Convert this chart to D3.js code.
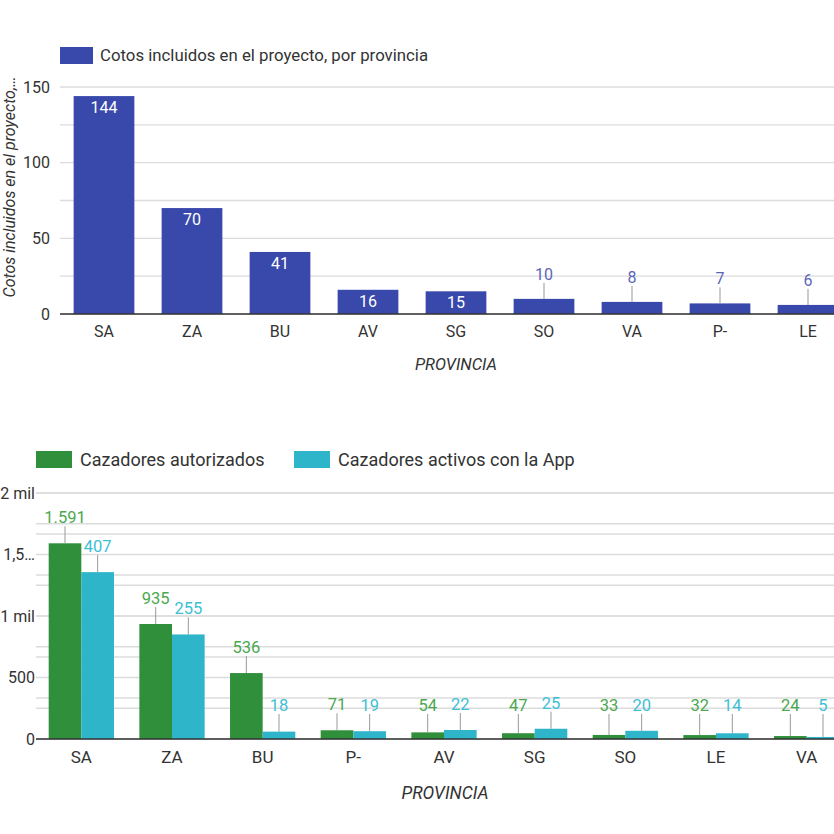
<!DOCTYPE html>
<html><head><meta charset="utf-8">
<script src="https://cdn.jsdelivr.net/npm/d3@7"></script>
<style>
html,body{margin:0;padding:0;background:#fff;}
svg{display:block;font-family:Roboto,"Noto Sans",sans-serif;}
</style></head>
<body>
<svg id="chart" width="834" height="834"></svg>
<script>
// ---- Chart 1 data ----
const provinces1 = ["SA","ZA","BU","AV","SG","SO","VA","P-","LE"];
const cotos = [144,70,41,16,15,10,8,7,6];
const yTicks1 = [0,50,100,150];
// ---- Chart 2 data ----
const provinces2 = ["SA","ZA","BU","P-","AV","SG","SO","LE","VA"];
const autorizados = [1591,935,536,71,54,47,33,32,24];
const activos = [407,255,18,19,22,25,20,14,5];
const autorizadosLabels = ["1.591","935","536","71","54","47","33","32","24"];
const yTicks2 = [0,500,1000,1500,2000];
const yTickLabels2 = ["0","500","1 mil","1,5…","2 mil"];

const svg = d3.select("#chart");
const BLUE="#3949ab", GREEN="#2f8f3a", CYAN="#2fb5c9";
const GREEN_T="#4aa84f", CYAN_T="#3cc0d4", BLUE_T="#5c66b8";
const TXT="#333";

// ================= Chart 1 =================
{
  const left=60, right=852, top=87, bottom=314;
  const x = d3.scaleBand().domain(provinces1).range([left,right]).paddingInner(0.31).paddingOuter(0.155);
  const y = d3.scaleLinear().domain([0,150]).range([bottom,top]);
  const g = svg.append("g");
  g.selectAll("line.grid").data(d3.range(0,151,25)).join("line")
    .attr("x1",left).attr("x2",834).attr("y1",d=>y(d)).attr("y2",d=>y(d))
    .attr("stroke","#dcdcdc").attr("stroke-width",1.3);
  const ya = d3.axisLeft(y).tickValues(yTicks1).tickSize(0).tickPadding(10);
  g.append("g").attr("transform",`translate(${left},0)`).call(ya)
    .call(s=>s.select(".domain").remove())
    .call(s=>s.selectAll("text").attr("font-size",16).attr("fill",TXT).attr("font-family","Roboto"));
  g.selectAll("rect.bar").data(cotos).join("rect")
    .attr("x",(d,i)=>x(provinces1[i])).attr("width",x.bandwidth())
    .attr("y",d=>y(d)).attr("height",d=>bottom-y(d)).attr("fill",BLUE);
  cotos.forEach((d,i)=>{
    const cx = x(provinces1[i])+x.bandwidth()/2;
    const inside = (bottom-y(d))>20;
    if(inside){
      g.append("text").attr("x",cx).attr("y",y(d)+17).attr("text-anchor","middle")
        .attr("font-size",16).attr("fill","#fff").text(d);
    } else {
      g.append("line").attr("x1",cx).attr("x2",cx).attr("y1",y(d)).attr("y2",y(d)-16)
        .attr("stroke","#999").attr("stroke-width",1);
      g.append("text").attr("x",cx).attr("y",y(d)-19).attr("text-anchor","middle")
        .attr("font-size",16).attr("fill",BLUE_T).text(d);
    }
  });
  g.append("line").attr("x1",left).attr("x2",834).attr("y1",bottom).attr("y2",bottom)
    .attr("stroke",TXT).attr("stroke-width",1.5);
  const xa = d3.axisBottom(x).tickSize(0).tickPadding(12);
  g.append("g").attr("transform",`translate(0,${bottom})`).call(xa)
    .call(s=>s.select(".domain").remove())
    .call(s=>s.selectAll("text").attr("font-size",16).attr("fill",TXT).attr("font-family","Roboto"));
  g.append("text").attr("x",456).attr("y",370).attr("text-anchor","middle")
    .attr("font-size",16.5).attr("font-style","italic").attr("fill",TXT).text("PROVINCIA");
  g.append("text").attr("transform","translate(15,187) rotate(-90)").attr("text-anchor","middle")
    .attr("font-size",16).attr("font-style","italic").attr("fill",TXT).text("Cotos incluidos en el proyecto,…");
  g.append("rect").attr("x",60).attr("y",47).attr("width",33).attr("height",17).attr("fill",BLUE);
  g.append("text").attr("x",100).attr("y",61).attr("font-size",16.8).attr("fill",TXT)
    .text("Cotos incluidos en el proyecto, por provincia");
}

// ================= Chart 2 =================
{
  const left=36, right=852, top=493, bottom=739;
  const x0 = d3.scaleBand().domain(provinces2).range([left,right]).paddingInner(0.28).paddingOuter(0.14);
  const series = ["autorizados","activos"];
  const x1 = d3.scaleBand().domain(series).range([0,x0.bandwidth()]);
  const y = d3.scaleLinear().domain([0,2000]).range([bottom,top]);
  const y2 = d3.scaleLinear().domain([0,600]).range([bottom,top]);
  const g = svg.append("g");
  const gridVals = d3.range(0,2001,250).map(v=>y(v)).concat(d3.range(0,601,100).map(v=>y2(v)));
  g.selectAll("line.grid").data(gridVals).join("line")
    .attr("x1",left).attr("x2",834).attr("y1",d=>d).attr("y2",d=>d)
    .attr("stroke","#dcdcdc").attr("stroke-width",1.3);
  const ya = d3.axisLeft(y).tickValues(yTicks2).tickFormat((d,i)=>yTickLabels2[i]).tickSize(0).tickPadding(1);
  g.append("g").attr("transform",`translate(${left},0)`).call(ya)
    .call(s=>s.select(".domain").remove())
    .call(s=>s.selectAll("text").attr("font-size",16).attr("fill",TXT).attr("font-family","Roboto"));
  g.selectAll("rect.g").data(autorizados).join("rect")
    .attr("x",(d,i)=>x0(provinces2[i])+x1("autorizados")).attr("width",x1.bandwidth())
    .attr("y",d=>y(d)).attr("height",d=>bottom-y(d)).attr("fill",GREEN);
  g.selectAll("rect.c").data(activos).join("rect")
    .attr("x",(d,i)=>x0(provinces2[i])+x1("activos")).attr("width",x1.bandwidth())
    .attr("y",d=>y2(d)).attr("height",d=>bottom-y2(d)).attr("fill",CYAN);
  autorizados.forEach((d,i)=>{
    const cx = x0(provinces2[i])+x1("autorizados")+x1.bandwidth()/2;
    const ty = Math.min(y(d), bottom-8);
    g.append("line").attr("x1",cx).attr("x2",cx).attr("y1",y(d)).attr("y2",ty-17)
      .attr("stroke","#999").attr("stroke-width",1);
    g.append("text").attr("x",cx).attr("y",ty-20).attr("text-anchor","middle")
      .attr("font-size",16.5).attr("fill",GREEN_T).text(autorizadosLabels[i]);
  });
  activos.forEach((d,i)=>{
    const cx = x0(provinces2[i])+x1("activos")+x1.bandwidth()/2;
    const ty = Math.min(y2(d), bottom-8);
    g.append("line").attr("x1",cx).attr("x2",cx).attr("y1",y2(d)).attr("y2",ty-17)
      .attr("stroke","#999").attr("stroke-width",1);
    g.append("text").attr("x",cx).attr("y",ty-20).attr("text-anchor","middle")
      .attr("font-size",16.5).attr("fill",CYAN_T).text(d);
  });
  g.append("line").attr("x1",left).attr("x2",834).attr("y1",bottom).attr("y2",bottom)
    .attr("stroke",TXT).attr("stroke-width",1.5);
  const xa = d3.axisBottom(x0).tickSize(0).tickPadding(12);
  g.append("g").attr("transform",`translate(0,${bottom})`).call(xa)
    .call(s=>s.select(".domain").remove())
    .call(s=>s.selectAll("text").attr("font-size",17).attr("fill",TXT).attr("font-family","Roboto"));
  g.append("text").attr("x",445).attr("y",799).attr("text-anchor","middle")
    .attr("font-size",17.5).attr("font-style","italic").attr("fill",TXT).text("PROVINCIA");
  g.append("rect").attr("x",36).attr("y",451).attr("width",36).attr("height",17).attr("fill",GREEN);
  g.append("text").attr("x",80).attr("y",466).attr("font-size",18).attr("fill",TXT).text("Cazadores autorizados");
  g.append("rect").attr("x",294).attr("y",451).attr("width",36).attr("height",17).attr("fill",CYAN);
  g.append("text").attr("x",338).attr("y",466).attr("font-size",18).attr("fill",TXT).text("Cazadores activos con la App");
}
</script>
</body></html>
